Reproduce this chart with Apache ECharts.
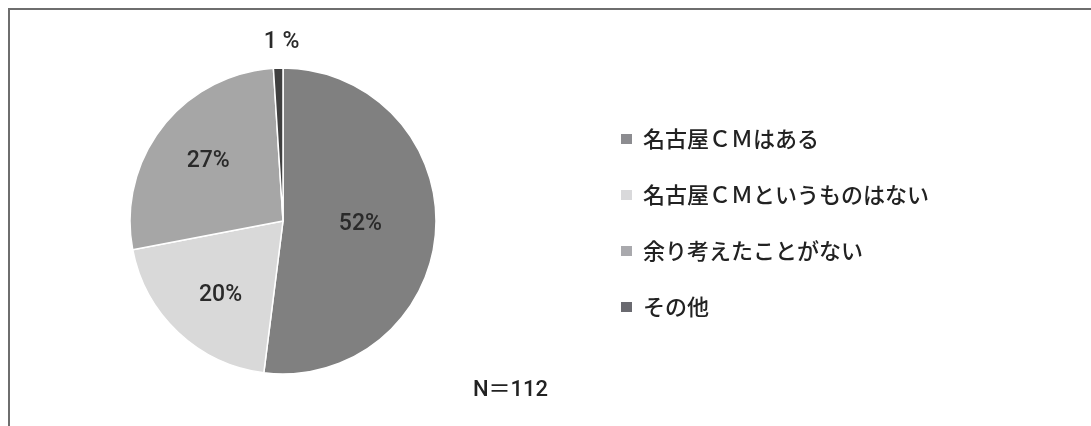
<!DOCTYPE html>
<html>
<head>
<meta charset="utf-8">
<script src="https://cdn.jsdelivr.net/npm/echarts@6/dist/echarts.min.js"></script>
<style>
  html, body { margin: 0; padding: 0; background: #fff; }
  #chart { width: 1091px; height: 426px; }
</style>
</head>
<body>
<div id="chart"></div>
<script>
// answers, clockwise from 12 o'clock
const categories = ['名古屋ＣＭはある', '名古屋ＣＭというものはない', '余り考えたことがない', 'その他'];
const shares = [52, 20, 27, 1];
const shareLabels = ['52%', '20%', '27%', '1 %'];
const sampleNote = 'N＝112';

// styles kept apart from the data
const colors = ['#808080', '#d9d9d9', '#a6a6a6', '#404040'];
const legendColors = ['#8c8c90', '#d9d9db', '#a9a9ad', '#6a6a70'];
const labelOffsets = [[-2, -2], [-8, 16], [-12, -11], [1, -99]];

const chart = echarts.init(document.getElementById('chart'), null, { renderer: 'canvas' });

const option = {
  animation: false,
  graphic: [
    { type: 'polyline', shape: { points: [[9, 426], [9, 9], [1091, 9]] },
      style: { stroke: '#6e6e6e', lineWidth: 2, fill: null } },
    { type: 'text', left: 473, top: 379,
      style: { text: sampleNote, fontFamily: 'Roboto, "Noto Sans CJK JP"', fontSize: 22, fontWeight: 500, fill: '#222' } }
  ],
  legend: {
    orient: 'vertical',
    left: 614,
    top: 123,
    icon: 'rect',
    itemWidth: 13,
    itemHeight: 12,
    itemGap: 34,
    selectedMode: false,
    textStyle: { fontFamily: '"Noto Sans CJK JP"', fontSize: 22, fontWeight: 500, color: '#222', padding: [0, 0, 0, 5] },
    data: categories.map((name, i) => ({ name, itemStyle: { color: legendColors[i] } }))
  },
  series: [{
    type: 'pie',
    center: [283, 221],
    radius: 153,
    startAngle: 90,
    clockwise: true,
    silent: true,
    itemStyle: { borderColor: '#fff', borderWidth: 1.5 },
    label: {
      show: true,
      position: 'inside',
      fontFamily: 'Roboto',
      fontSize: 23,
      fontWeight: 500,
      color: '#2a2a2a'
    },
    labelLine: { show: false },
    data: shares.map((v, i) => ({
      value: v,
      name: categories[i],
      itemStyle: { color: colors[i] },
      label: { formatter: shareLabels[i], offset: labelOffsets[i] }
    }))
  }]
};

chart.setOption(option);
</script>
</body>
</html>
